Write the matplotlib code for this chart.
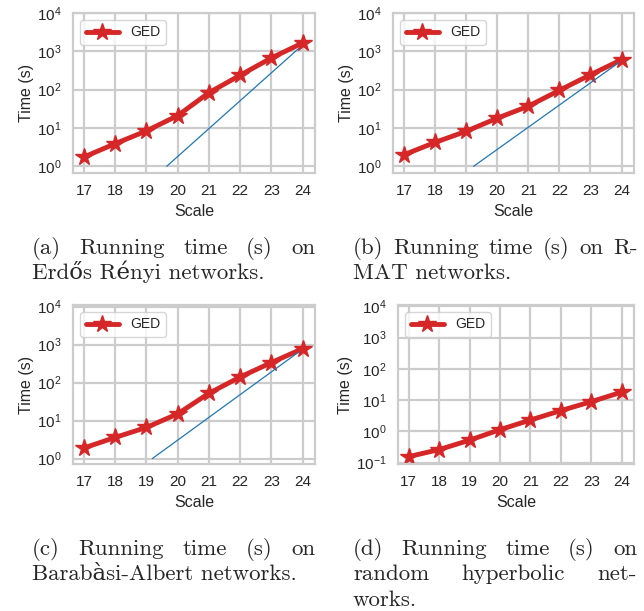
import matplotlib
matplotlib.use("Agg")
import matplotlib.pyplot as plt
import seaborn as sns
import numpy as np

scales = [17, 18, 19, 20, 21, 22, 23, 24]

erdos_time = [1.75, 3.9, 8.4, 21, 83, 237, 670, 1650]
rmat_time = [2.0, 4.2, 8.2, 18, 37, 96, 245, 605]
ba_time = [1.9, 3.6, 6.6, 15, 52, 140, 335, 780]
hyper_time = [0.155, 0.26, 0.52, 1.13, 2.3, 4.6, 8.9, 18]

# thin reference lines (start/end points)
erdos_ref_x = [19.65, 23.87]
erdos_ref_y = [1.0, 1175]
rmat_ref_x = [19.24, 23.9]
rmat_ref_y = [1.0, 500]
ba_ref_x = [19.19, 23.87]
ba_ref_y = [1.0, 630]

captions = [
    (["(a) Running time (s) on", "Erdős Rényi networks."], 32, 315, 254),
    (["(b) Running time (s) on R-", "MAT networks."], 353, 638, 254),
    (["(c) Running time (s) on", "Barabàsi-Albert networks."], 32, 315, 555),
    (["(d) Running time (s) on", "random hyperbolic net-", "works."], 353, 637, 555),
]

sns.set_theme(style="whitegrid")
plt.rcParams['font.family'] = ['Liberation Sans', 'DejaVu Sans']
plt.rcParams['mathtext.fontset'] = 'custom'
plt.rcParams['mathtext.rm'] = 'Liberation Sans'
plt.rcParams['mathtext.it'] = 'Liberation Sans:italic'

W, H = 644, 611
fig = plt.figure(figsize=(W / 100, H / 100), dpi=100)

def ax_at(x0, y0, x1, y1):
    return fig.add_axes([x0 / W, 1 - y1 / H, (x1 - x0) / W, (y1 - y0) / H])

panels = [
    (ax_at(73, 13, 315, 173), erdos_time, erdos_ref_x, erdos_ref_y, (0.67, 1e4)),
    (ax_at(393, 13, 634, 173), rmat_time, rmat_ref_x, rmat_ref_y, (0.67, 1e4)),
    (ax_at(73, 305, 315, 464), ba_time, ba_ref_x, ba_ref_y, (0.72, 1.1e4)),
    (ax_at(398, 305, 634, 464), hyper_time, None, None, (0.09, 1.1e4)),
]

for ax, t, rx, ry, yl in panels:
    ax.plot(scales, t, color='#d62728', lw=3.5, marker='*', ms=13, label='GED')
    if rx is not None:
        ax.plot(rx, ry, color='#1f77b4', lw=0.9)
    ax.set_yscale('log')
    ax.set_ylim(*yl)
    ax.set_xlim(16.65, 24.4)
    ax.set_xticks(scales)
    ax.yaxis.set_major_locator(matplotlib.ticker.LogLocator(base=10, numticks=10))
    ax.yaxis.set_minor_locator(matplotlib.ticker.NullLocator())
    ax.tick_params(labelsize=11, pad=2)
    ax.set_xlabel('Scale', fontsize=11.5, labelpad=4)
    ax.set_ylabel('Time (s)', fontsize=11.5, labelpad=2)
    ax.grid(True, color='#cccccc', lw=1.6)
    for s in ax.spines.values():
        s.set_color('#cccccc')
        s.set_linewidth(1.6)
    ax.legend(loc='upper left', fontsize=10, frameon=True, handlelength=2.4,
              borderpad=0.4, edgecolor='#cccccc')

# captions, justified word by word
renderer = fig.canvas.get_renderer()
cap_font = dict(family=['cmr10', 'DejaVu Serif'], fontsize=16.5)
line_gap = 25.5

for lines, x0, x1, y0 in captions:
    for i, line in enumerate(lines):
        y = 1 - (y0 + i * line_gap) / H
        last = i == len(lines) - 1
        words = line.split(' ')
        if last or len(words) == 1:
            fig.text(x0 / W, y, line, va='baseline', ha='left', **cap_font)
            continue
        txts = [fig.text(0, y, w, va='baseline', ha='left', **cap_font) for w in words]
        widths = [tx.get_window_extent(renderer).width for tx in txts]
        gap = (x1 - x0 - sum(widths)) / (len(words) - 1)
        x = x0
        for tx, wd in zip(txts, widths):
            tx.set_x(x / W)
            x += wd + gap

fig.savefig('out.png', dpi=100)
